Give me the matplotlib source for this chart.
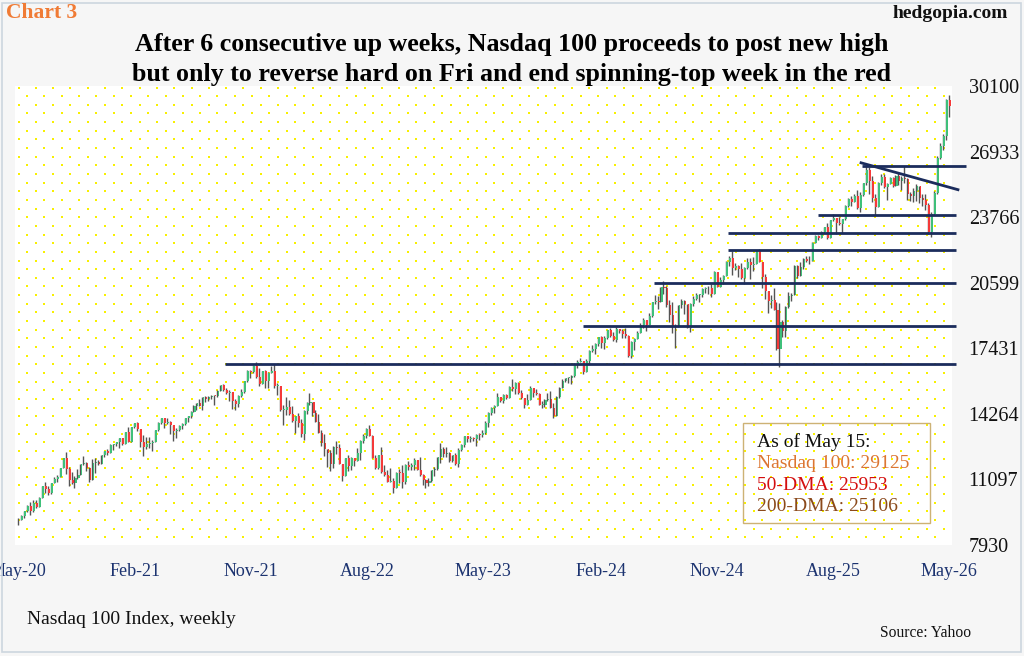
"""
Nasdaq 100 weekly candlesticks, May-20 to May-26 (hedgopia-style chart)
Outputs: out.png
"""
import numpy as np
import pandas as pd
import matplotlib
matplotlib.use("Agg")
import matplotlib.pyplot as plt
import matplotlib.dates as mdates
from matplotlib.patches import Rectangle

# ── Weekly data (Friday closes, highs, lows) ─────────────────────────────────
first_open = 9121

close_2020 = [9152, 9325, 9555, 9825, 9588, 9946, 9757, 10208, 10768, 10643, 10462, 10905, 11139,
              11220, 11626, 12110, 11622, 11088, 10936, 11178, 11293, 11839, 11883, 11667, 11052,
              11895, 11937, 11855, 12258, 12464, 12376, 12755, 12805, 12888]
high_2020 = [9250, 9400, 9590, 9860, 10000, 10100, 10120, 10240, 10790, 10950, 10760, 10920, 11220,
             11320, 11650, 12150, 12440, 11680, 11450, 11250, 11600, 11860, 12250, 11950, 11720,
             12100, 12150, 12050, 12280, 12480, 12560, 12790, 12820, 12900]
low_2020 = [8880, 9150, 9250, 9520, 9400, 9500, 9740, 9780, 10240, 10460, 10330, 10410, 10920,
            10980, 11250, 11630, 11380, 10800, 10880, 10680, 11110, 11330, 11800, 11520, 10980,
            11080, 11420, 11800, 11870, 12200, 12280, 12400, 12530, 12710]

close_2021 = [13105, 12804, 13366, 12925, 13612, 13807, 13535, 12909, 12668, 12809, 12857, 12919,
              13480, 13845, 14041, 13818, 13860, 13720, 13431, 13470, 13686, 13773, 14069, 14141,
              14360, 14663, 14766, 14645, 15076, 14960, 15100, 15133, 15120, 15391, 15653, 15395,
              15291, 15308, 14867, 14733, 15146, 15335, 15850, 16345, 16283, 16573, 16025, 15712,
              16331, 15871, 16252, 16320]
high_2021 = [13120, 13080, 13400, 13620, 13630, 13840, 13880, 13510, 13250, 13140, 13160, 12980,
             13500, 13850, 14060, 14000, 14060, 13900, 13720, 13560, 13750, 13800, 14080, 14180,
             14400, 14680, 14800, 14960, 15080, 15130, 15150, 15170, 15170, 15400, 15680, 15700,
             15500, 15400, 15300, 14970, 15160, 15470, 15850, 16400, 16400, 16600, 16765, 16470,
             16340, 16400, 16270, 16570]
low_2021 = [12600, 12770, 12930, 12900, 13030, 13560, 13460, 12650, 12210, 12560, 12620, 12480,
            12900, 13460, 13790, 13600, 13780, 13300, 12950, 13100, 13450, 13510, 13730, 13860,
            14050, 14330, 14470, 14630, 14450, 14850, 14900, 14970, 14690, 15100, 15360, 15380,
            15200, 14880, 14500, 14440, 14590, 15100, 15270, 15800, 15990, 16250, 16010, 15600,
            15780, 15530, 15500, 16240]

close_2022 = [15594, 15612, 14438, 14440, 14600, 14253, 13900, 14147, 13838, 13301, 14420, 14802,
              14861, 14284, 13894, 13355, 12854, 12556, 12387, 11835, 12681, 12620, 11830, 11265,
              12141, 11728, 12125, 11982, 12397, 12947, 13207, 13555, 13196, 12141, 11631, 12262,
              11449, 11311, 10971, 11039, 10692, 11431, 11396, 10996, 11805, 11677, 11785, 12030,
              11574, 11295, 11048, 10939]
high_2022 = [16660, 15750, 15590, 14700, 15080, 14950, 14620, 14180, 14290, 14040, 14440, 14830,
             15265, 14850, 14450, 14280, 13470, 13270, 12560, 12500, 12690, 12950, 12800, 11790,
             12150, 12260, 12190, 12100, 12610, 12990, 13280, 13570, 13720, 13250, 12300, 12290,
             12670, 11770, 11550, 11630, 11180, 11450, 11620, 11800, 11830, 11970, 11870, 12120,
             11980, 12170, 11380, 11130]
low_2022 = [15510, 15170, 14400, 13720, 14200, 14230, 13850, 13320, 13620, 13150, 13020, 14270,
            14700, 14180, 13860, 13330, 12730, 12230, 11720, 11500, 11630, 12340, 11820, 11040,
            11370, 11500, 11540, 11730, 11970, 12050, 12850, 13110, 13180, 12130, 11600, 11600,
            11420, 11260, 10970, 10960, 10440, 10750, 10930, 10690, 10900, 11540, 11570, 11530,
            11550, 11240, 10830, 10690]

close_2023 = [11040, 11541, 11619, 12167, 12574, 12305, 12359, 11977, 12266, 11830, 12520, 12767,
              13181, 13063, 13079, 13038, 13246, 13240, 13340, 13803, 14299, 14547, 14620, 15083,
              14891, 15179, 15034, 15565, 15457, 15750, 15275, 15009, 14694, 14941, 15531, 15290,
              15202, 14701, 14715, 14952, 14995, 14542, 14180, 15099, 15529, 15839, 15983, 15997,
              16085, 16623, 16778, 16826]
high_2023 = [11150, 11560, 11680, 12200, 12880, 12650, 12650, 12400, 12280, 12360, 12620, 12830,
             13190, 13200, 13200, 13150, 13280, 13330, 13470, 13900, 14340, 14610, 14680, 15280,
             15080, 15200, 15210, 15630, 15930, 15800, 15800, 15440, 15020, 15200, 15610, 15530,
             15470, 15280, 14880, 15000, 15270, 15350, 14800, 15130, 15540, 15930, 16020, 16050,
             16150, 16700, 16880, 16970]
low_2023 = [10780, 10990, 11260, 11530, 11900, 12200, 12180, 11940, 11930, 11800, 11700, 12450,
            12680, 12910, 12900, 12970, 12720, 12990, 13140, 13280, 13630, 14220, 14320, 14660,
            14850, 14770, 14970, 15030, 15380, 15230, 15220, 14960, 14560, 14680, 14960, 15100,
            15180, 14680, 14540, 14580, 14900, 14530, 14060, 14160, 15010, 15530, 15780, 15750,
            15720, 16050, 16480, 16780]

close_2024 = [16306, 16832, 17315, 17421, 17642, 17963, 17685, 17937, 18302, 18019, 17808, 18339,
              18255, 18108, 18003, 17037, 17718, 17891, 18161, 18546, 18808, 18536, 19000, 19660,
              19701, 19683, 20392, 20332, 19523, 19023, 18440, 18514, 19508, 19720, 19575, 18421,
              19582, 19791, 20000, 20014, 20272, 20324, 20352, 20033, 21118, 20394, 20744, 20930,
              21622, 21780, 21289, 21426]
high_2024 = [16790, 16890, 17330, 17600, 17690, 17990, 18040, 18010, 18320, 18420, 18230, 18460,
             18370, 18360, 18400, 18060, 17770, 17910, 18250, 18670, 18910, 18820, 19130, 19690,
             20000, 19950, 20410, 20690, 20420, 19780, 19690, 18590, 19540, 19800, 19780, 19560,
             19610, 19970, 20110, 20070, 20350, 20370, 20460, 20540, 21150, 21120, 20870, 20950,
             21650, 21880, 22130, 21560]
low_2024 = [16170, 16280, 16670, 17250, 17160, 17550, 17430, 17390, 17860, 17990, 17780, 17740,
            18160, 17920, 17950, 17010, 16970, 17350, 17900, 18150, 18430, 18280, 18550, 18920,
            19560, 19340, 19690, 20050, 19420, 18720, 18170, 17430, 18470, 19400, 19100, 18420,
            18210, 19470, 19750, 19650, 19910, 20080, 20040, 19930, 20120, 20380, 20370, 20520,
            20900, 21400, 20990, 21220]

close_2025 = [21262, 20847, 21307, 21585, 21478, 21491, 22115, 21614, 20884, 20202, 19704, 19754,
              19281, 17398, 18690, 18258, 19432, 19970, 19982, 21427, 20916, 21340, 21761, 21631,
              21626, 22534, 22867, 22780, 23065, 23272, 22763, 23623, 23712, 23498, 23415, 23652,
              24300, 24626, 24503, 24785, 24222, 24818, 25400, 26050, 25500, 24700, 24240, 25435,
              25690, 25200, 25350, 25650]
high_2025 = [21450, 21530, 21350, 21780, 21790, 21820, 22140, 22220, 21600, 21030, 20150, 20000,
             20350, 19680, 19600, 18800, 19450, 20130, 20100, 21440, 21450, 21600, 21800, 21900,
             21900, 22560, 22880, 22880, 23100, 23300, 23500, 23650, 23900, 23700, 23750, 23700,
             24350, 24700, 24800, 24900, 25100, 24980, 25420, 26300, 26200, 25750, 24900, 25450,
             25850, 25830, 25400, 25700]
low_2025 = [20880, 20790, 20540, 21280, 20760, 21150, 21480, 21580, 20350, 19800, 19150, 19400,
            19260, 17350, 16540, 18000, 17990, 19360, 19700, 20800, 20850, 21080, 21250, 21600,
            21500, 21700, 22500, 22650, 22800, 23000, 22700, 22830, 23560, 22950, 23380, 23000,
            23640, 24250, 24300, 24500, 24180, 24000, 24800, 25300, 24900, 24500, 23870, 24250,
            25300, 25150, 24600, 25380]

close_2026 = [25250, 25750, 25500, 25650, 25600, 24900, 24800, 25050, 25250, 24700, 24600, 24350,
              23050, 23900, 24950, 26600, 27200, 27700, 29400, 29125]
high_2026 = [25700, 25800, 25900, 25750, 26230, 25650, 25000, 25150, 25350, 25150, 24900, 24900,
             24450, 24000, 25050, 26700, 27350, 27800, 29450, 29670]
low_2026 = [25200, 25250, 25300, 25100, 25400, 24600, 24550, 24500, 24550, 24450, 24300, 24100,
            22950, 22800, 23850, 24900, 26550, 27000, 27500, 28600]

# support / resistance lines drawn on the chart: level, start date
levels = [16673, 18508, 20600, 22180, 22985, 23870, 26236]
level_starts = ["2021-09-14", "2024-01-04", "2024-06-19", "2024-12-11", "2024-12-11",
                "2025-07-10", "2025-10-22"]
level_ends = ["2026-05-31"] * 6 + ["2026-06-24"]
trend_dates = ["2025-10-20", "2026-06-05"]
trend_values = [26390, 25092]

y_ticks = [7930, 11097, 14264, 17431, 20599, 23766, 26933, 30100]
legend_lines = ["As of May 15:", "Nasdaq 100: 29125", "50-DMA: 25953", "200-DMA: 25106"]
legend_colors = ["#111111", "#dc7633", "#d40f0f", "#8b4a1c"]

# ── Assemble ─────────────────────────────────────────────────────────────────
closes = np.array(close_2020 + close_2021 + close_2022 + close_2023 + close_2024 + close_2025 + close_2026)
highs = np.array(high_2020 + high_2021 + high_2022 + high_2023 + high_2024 + high_2025 + high_2026)
lows = np.array(low_2020 + low_2021 + low_2022 + low_2023 + low_2024 + low_2025 + low_2026)
opens = np.concatenate([[first_open], closes[:-1]])
dates = pd.date_range("2020-05-15", periods=len(closes), freq="7D")
xd = mdates.date2num(dates)

W, H = 1024, 656
fig = plt.figure(figsize=(W / 100, H / 100), dpi=100, facecolor="#f6f6f6")
ax_l, ax_r, ax_t, ax_b = 15, 952, 86, 545
ax = fig.add_axes([ax_l / W, 1 - ax_b / H, (ax_r - ax_l) / W, (ax_b - ax_t) / H])
ax.set_facecolor("white")
serif = "Liberation Serif"

# yellow dotted background
aw, ah = ax_r - ax_l, ax_b - ax_t
px, py = [], []
for r, yy in enumerate(np.arange(1.5, ah, 8.65)):
    xs = np.arange(3.5 + (8.65 if r % 2 else 0), aw, 17.3)
    px.extend(xs / aw)
    py.extend([1 - yy / ah] * len(xs))
ax.scatter(px, py, s=2.2, marker="s", color="#f8f000", linewidths=0,
           transform=ax.transAxes, zorder=0)

# candles
lo = np.minimum(lows, np.minimum(opens, closes))
hi = np.maximum(highs, np.maximum(opens, closes))
ax.vlines(xd, lo, hi, color="#555555", linewidth=1.0, zorder=2)
body_col = np.where(closes >= opens, "#3fc07a", "#f43a3a")
body_h = np.maximum(np.abs(closes - opens), 40)
ax.bar(xd + 0.6, body_h, bottom=np.minimum(opens, closes), width=4.2, align="edge",
       color=body_col, linewidth=0, zorder=3)

# drawn lines
for lv, s, e in zip(levels, level_starts, level_ends):
    ax.plot(mdates.date2num(pd.to_datetime([s, e])), [lv, lv], color="#1b2c5c",
            linewidth=2.0, solid_capstyle="butt", clip_on=False, zorder=5)
ax.plot(mdates.date2num(pd.to_datetime(trend_dates)), trend_values, color="#1b2c5c",
        linewidth=2.0, clip_on=False, zorder=5)

# axes
ax.set_xlim(mdates.date2num(pd.Timestamp("2020-05-08")), mdates.date2num(pd.Timestamp("2026-05-22")))
ax.set_ylim(7930, 30100)
x_ticks = pd.date_range("2020-05-01", periods=9, freq="9MS") + pd.Timedelta(days=14)
ax.set_xticks(mdates.date2num(x_ticks))
ax.set_xticklabels([d.strftime("%b-%y") for d in x_ticks], fontfamily=serif, fontsize=13,
                   color="#1c3370")
ax.yaxis.tick_right()
ax.set_yticks(y_ticks)
ax.set_yticklabels([str(v) for v in y_ticks], fontfamily=serif, fontsize=14.5, color="#111111")
ax.tick_params(axis="both", length=0)
ax.tick_params(axis="x", pad=13)
ax.tick_params(axis="y", pad=12)
for sp in ax.spines.values():
    sp.set_visible(False)

# legend box
ax.add_patch(Rectangle(((743 - ax_l) / aw, 1 - (523 - ax_t) / ah), (930 - 743) / aw, (523 - 423) / ah,
                       transform=ax.transAxes, fill=False, edgecolor="#cdb275", linewidth=1.0, zorder=6))
for i, (txt, col) in enumerate(zip(legend_lines, legend_colors)):
    fig.text(757 / W, 1 - (442 + 21.5 * i) / H, txt, color=col, fontfamily=serif, fontsize=14,
             va="center", ha="left")

# texts
fig.text(6 / W, 1 - 13 / H, "Chart 3", color="#f07b35", fontfamily=serif, fontsize=15.5,
         fontweight="bold", va="center", ha="left")
fig.text(1008 / W, 1 - 13 / H, "hedgopia.com", color="#111111", fontfamily=serif, fontsize=14,
         fontweight="bold", va="center", ha="right")
fig.text(512 / W, 1 - 45 / H, "After 6 consecutive up weeks, Nasdaq 100 proceeds to post new high",
         fontfamily=serif, fontsize=18.7, fontweight="bold", va="center", ha="center")
fig.text(512 / W, 1 - 74 / H, "but only to reverse hard on Fri and end spinning-top week in the red",
         fontfamily=serif, fontsize=18.7, fontweight="bold", va="center", ha="center")
fig.text(27 / W, 1 - 619 / H, "Nasdaq 100 Index, weekly", fontfamily=serif, fontsize=14,
         va="center", ha="left", color="#111111")
fig.text(971 / W, 1 - 633 / H, "Source: Yahoo", fontfamily=serif, fontsize=11.2,
         va="center", ha="right", color="#111111")

fig.patches.append(Rectangle((0.002, 0.006), 0.995, 0.99, transform=fig.transFigure, fill=False,
                             edgecolor="#cdd6df", linewidth=1.2))

fig.savefig("out.png", dpi=100, facecolor=fig.get_facecolor())
plt.close(fig)
